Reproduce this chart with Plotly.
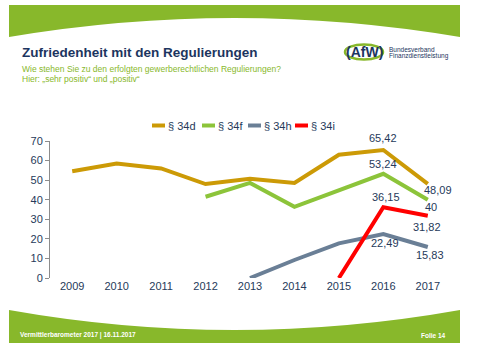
import plotly.graph_objects as go

# ---------------- data ----------------
years = ["2009", "2010", "2011", "2012", "2013", "2014", "2015", "2016", "2017"]
s34d = [54.5, 58.5, 56.0, 48.0, 50.7, 48.6, 63.0, 65.42, 48.09]
s34f = [None, None, None, 41.5, 48.6, 36.4, 44.8, 53.24, 40.0]
s34h = [None, None, None, None, 0.0, 9.2, 17.7, 22.49, 15.83]
s34i = [None, None, None, None, None, None, 0.0, 36.15, 31.82]
series_names = ["§ 34d", "§ 34f", "§ 34h", "§ 34i"]
y_ticks = [0, 10, 20, 30, 40, 50, 60, 70]
labelled_years = ["2016", "2017"]

title = "Zufriedenheit mit den Regulierungen"
subtitle1 = "Wie stehen Sie zu den erfolgten gewerberechtlichen Regulierungen?"
subtitle2 = "Hier: „sehr positiv“ und „positiv“"
footer_left = "Vermittlerbarometer 2017 | 16.11.2017"
footer_right = "Folie 14"

# ---------------- style ----------------
colors = ["#cc9a06", "#8cc43a", "#6a7f96", "#ff0000"]
GREEN = "#88b82b"
NAVY = "#1c3560"
TEXT = "#263a5a"
FONT = "Arial, Liberation Sans, sans-serif"
W, H = 492, 358
L, R, T, B = 50, 450, 141, 278

# label offsets (xshift, yshift) per series, per labelled year
label_shift = [
    [(0, 12), (10, -6)],
    [(0, 10), (3, -7)],
    [(2, -9), (2, -8)],
    [(3, 10), (-1, -11)],
]


def px(X, Y):
    return (X - L) / (R - L), (B - Y) / (B - T)


def path(points_cmds):
    out = []
    for cmd, pts in points_cmds:
        coords = " ".join("%.5f,%.5f" % px(x, y) for x, y in pts)
        out.append(cmd + coords)
    return " ".join(out) + " Z"


def fmt(v):
    return ("%g" % v).replace(".", ",")


fig = go.Figure()
all_series = [s34d, s34f, s34h, s34i]
for name, vals, col in zip(series_names, all_series, colors):
    fig.add_trace(go.Scatter(
        x=years, y=vals, name=name, mode="lines",
        line=dict(color=col, width=4), connectgaps=False,
        showlegend=False, hoverinfo="skip"))

annotations = []
shapes = []

# data labels (x given as category index)
for si, vals in enumerate(all_series):
    for li, yr in enumerate(labelled_years):
        idx = years.index(yr)
        v = vals[idx]
        dx, dy = label_shift[si][li]
        annotations.append(dict(
            x=idx, y=v, xref="x", yref="y", text=fmt(v), showarrow=False,
            xshift=dx, yshift=dy, font=dict(family=FONT, size=11, color=TEXT)))

# top green band
shapes.append(dict(type="path", xref="paper", yref="paper",
                   path=path([("M", [(9, 5)]), ("L", [(460, 5)]), ("L", [(460, 37)]),
                              ("Q", [(234.5, -1), (9, 37)])]),
                   fillcolor=GREEN, line=dict(width=0), layer="below"))
# bottom green band
shapes.append(dict(type="path", xref="paper", yref="paper",
                   path=path([("M", [(9, 310)]), ("Q", [(234.5, 350), (460, 310)]),
                              ("L", [(460, 343)]), ("L", [(9, 343)])]),
                   fillcolor=GREEN, line=dict(width=0), layer="below"))

# manual legend
leg_x = [152, 202, 248, 295]
leg_y = 125.5
for i, (name, col) in enumerate(zip(series_names, colors)):
    x0, y0 = px(leg_x[i], leg_y)
    x1, _ = px(leg_x[i] + 13, leg_y)
    shapes.append(dict(type="line", xref="paper", yref="paper", x0=x0, x1=x1,
                       y0=y0, y1=y0, line=dict(color=col, width=4)))
    tx, ty = px(leg_x[i] + 14, leg_y)
    annotations.append(dict(x=tx, y=ty, xref="paper", yref="paper", text=name,
                            showarrow=False, xanchor="left", yanchor="middle",
                            font=dict(family=FONT, size=11, color=TEXT)))

# logo
ex0, ey0 = px(345, 44.5)
ex1, ey1 = px(383, 59.5)
shapes.append(dict(type="circle", xref="paper", yref="paper", x0=ex0, x1=ex1,
                   y0=ey1, y1=ey0, line=dict(color=GREEN, width=2.5)))
lx, ly = px(364, 52)
annotations.append(dict(x=lx, y=ly, xref="paper", yref="paper", text="<b>(AfW)</b>",
                        showarrow=False, xanchor="center", yanchor="middle",
                        font=dict(family=FONT, size=14, color=NAVY)))
for txt, yy in [("Bundesverband", 49.5), ("Finanzdienstleistung", 56.5)]:
    bx, by = px(387, yy)
    annotations.append(dict(x=bx, y=by, xref="paper", yref="paper", text=txt,
                            showarrow=False, xanchor="left", yanchor="middle",
                            font=dict(family=FONT, size=6.5, color=NAVY)))

# title and subtitles
for txt, yy, size, col, bold in [(title, 52, 13.5, NAVY, True),
                                 (subtitle1, 69, 8.5, GREEN, False),
                                 (subtitle2, 78.5, 8.5, GREEN, False)]:
    tx, ty = px(20, yy)
    annotations.append(dict(x=tx, y=ty, xref="paper", yref="paper",
                            text=("<b>%s</b>" % txt) if bold else txt,
                            showarrow=False, xanchor="left", yanchor="middle",
                            font=dict(family=FONT, size=size, color=col)))

# footer
fx, fy = px(18, 335)
annotations.append(dict(x=fx, y=fy, xref="paper", yref="paper", text="<b>%s</b>" % footer_left,
                        showarrow=False, xanchor="left", yanchor="middle",
                        font=dict(family=FONT, size=6.5, color="white")))
fx, fy = px(448, 335)
annotations.append(dict(x=fx, y=fy, xref="paper", yref="paper", text="<b>%s</b>" % footer_right,
                        showarrow=False, xanchor="right", yanchor="middle",
                        font=dict(family=FONT, size=6.5, color="white")))

fig.update_layout(
    width=W, height=H,
    margin=dict(l=L, r=W - R, t=T, b=H - B, pad=0),
    paper_bgcolor="white", plot_bgcolor="white",
    shapes=shapes, annotations=annotations,
    showlegend=False,
    font=dict(family=FONT, size=11, color=TEXT),
)
fig.update_xaxes(type="category", categoryorder="array", categoryarray=years,
                 range=[-0.5, len(years) - 0.5], showgrid=False, zeroline=False,
                 showline=False, ticks="", tickfont=dict(size=11, color=TEXT))
fig.update_yaxes(range=[0, 70], tickvals=y_ticks, showgrid=False, zeroline=False,
                 showline=True, linecolor="#8c8c8c", linewidth=1, ticks="outside",
                 ticklen=4, tickcolor="#8c8c8c", tickfont=dict(size=11, color=TEXT))

fig.write_html("out.html", config={"displayModeBar": False},
               post_script="document.body.style.margin='0';document.body.style.overflow='hidden';")
